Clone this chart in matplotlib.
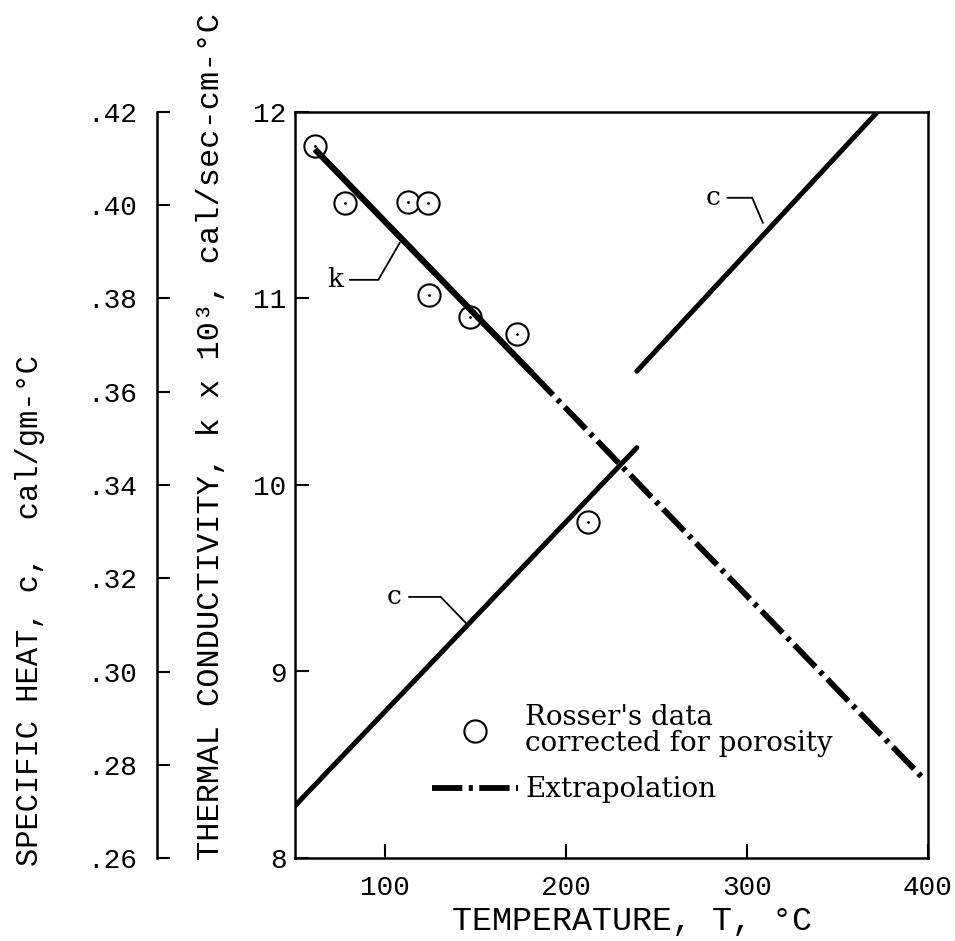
import matplotlib
matplotlib.use('Agg')
import matplotlib.pyplot as plt

# Rosser's data corrected for porosity (k x 10^3, cal/sec-cm-C)
rosser_temp = [61, 77.5, 112.5, 123.5, 124, 146.5, 172.5, 212]
rosser_k = [11.82, 11.51, 11.52, 11.51, 11.02, 10.90, 10.81, 9.80]

# thermal conductivity: fitted line and extrapolation
k_fit_temp = [61, 181]
k_fit = [11.80, 10.60]
k_extrap_temp = [181, 398]
k_extrap = [10.60, 8.42]

# specific heat, two branches (cal/gm-C)
c_low_temp = [50, 239]
c_low = [0.2712, 0.348]
c_high_temp = [239, 372]
c_high = [0.3644, 0.42]

temp_ticks = [100, 200, 300, 400]
k_ticks = [8, 9, 10, 11, 12]
c_ticks = [0.26, 0.28, 0.30, 0.32, 0.34, 0.36, 0.38, 0.40, 0.42]
c_tick_labels = ['.26', '.28', '.30', '.32', '.34', '.36', '.38', '.40', '.42']

MONO = 'Liberation Mono'
SERIF = 'DejaVu Serif'
W, H = 955, 941


def fx(px):
    return px / W


def fy(py):
    return 1 - py / H


fig = plt.figure(figsize=(9.55, 9.41), dpi=100)
ax = fig.add_axes([fx(295), fy(858), (928 - 295) / W, (858 - 112) / H])

# main axes (temperature vs k)
ax.set_xlim(50, 400)
ax.set_ylim(8, 12)
ax.set_xticks(temp_ticks)
ax.set_yticks(k_ticks)
for s in ax.spines.values():
    s.set_linewidth(1.8)
ax.tick_params(direction='in', length=10, width=1.5, labelsize=20)
ax.tick_params(axis='x', pad=12)
ax.tick_params(axis='y', pad=6)
for lab in ax.get_xticklabels() + ax.get_yticklabels():
    lab.set_fontfamily(MONO)

# second axis for specific heat, shifted to the left
ax2 = ax.twinx()
ax2.set_ylim(0.26, 0.42)
ax2.spines['right'].set_visible(False)
ax2.spines['top'].set_visible(False)
ax2.spines['bottom'].set_visible(False)
ax2.spines['left'].set_visible(True)
ax2.spines['left'].set_position(('axes', (157 - 295) / (928 - 295)))
ax2.spines['left'].set_linewidth(1.8)
ax2.yaxis.set_ticks_position('left')
ax2.set_yticks(c_ticks)
ax2.set_yticklabels(c_tick_labels, fontfamily=MONO)
ax2.tick_params(direction='in', length=9, width=1.5, labelsize=20, pad=14)

# data
ax.plot(k_extrap_temp, k_extrap, color='black', lw=4.2,
        linestyle=(0, (5.2, 1.1, 0.7, 1.1)), label='Extrapolation')
ax.plot(rosser_temp, rosser_k, 'o', ms=16, mfc='white', mec='black', mew=1.5,
        label="Rosser's data\ncorrected for porosity")
ax.plot(rosser_temp, rosser_k, '.', ms=2, color='black')
ax.plot(k_fit_temp, k_fit, color='black', lw=4.5, solid_capstyle='butt')

ax2.plot(c_low_temp, c_low, color='black', lw=3.6, solid_capstyle='round')
ax2.plot(c_high_temp, c_high, color='black', lw=3.6, solid_capstyle='round')

# leader labels
lead = dict(arrowstyle='-', lw=1.3, color='black', shrinkA=3, shrinkB=0,
            relpos=(1, 0.5))
ax.annotate('k', xy=(108, 11.30), xytext=(72, 11.10), fontsize=19,
            family=SERIF, ha='center', va='center',
            arrowprops=dict(connectionstyle='angle,angleA=0,angleB=60,rad=0',
                            **lead))
ax2.annotate('c', xy=(308.7, 0.3962), xytext=(281, 0.4016), fontsize=19,
             family=SERIF, ha='center', va='center',
             arrowprops=dict(connectionstyle='angle,angleA=0,angleB=-67,rad=0',
                             **lead))
ax2.annotate('c', xy=(145, 0.3102), xytext=(105, 0.316), fontsize=19,
             family=SERIF, ha='center', va='center',
             arrowprops=dict(connectionstyle='angle,angleA=0,angleB=-46,rad=0',
                             **lead))

# legend
handles, labels = ax.get_legend_handles_labels()
leg = ax.legend(handles[::-1], labels[::-1], loc='upper left',
                bbox_to_anchor=(fx(432), fy(704)), bbox_transform=fig.transFigure,
                frameon=False, prop={'family': SERIF, 'size': 20},
                handlelength=3.1, handletextpad=0.25, borderpad=0,
                borderaxespad=0, labelspacing=0.7)
for t in leg.get_texts():
    t.set_linespacing(0.95)

# axis titles
fig.text(fx(632), fy(922), 'TEMPERATURE, T, °C', family=MONO, fontsize=24,
         ha='center', va='center')
fig.text(fx(30), fy(610), 'SPECIFIC HEAT, c,  cal/gm-°C', family=MONO,
         fontsize=22, rotation=90, ha='center', va='center')
fig.text(fx(211), fy(437), 'THERMAL CONDUCTIVITY, k x 10³, cal/sec-cm-°C',
         family=MONO, fontsize=23, rotation=90, ha='center', va='center')

fig.savefig('out.png', dpi=100)
